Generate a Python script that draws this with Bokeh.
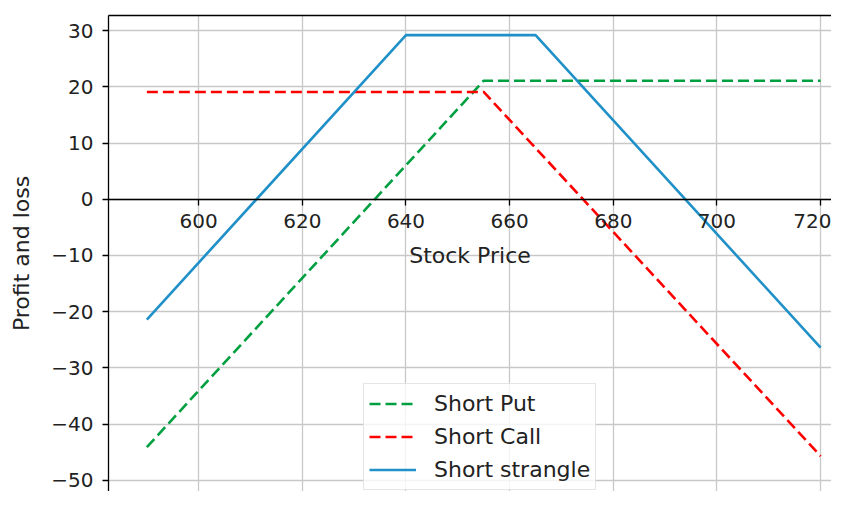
from bokeh.plotting import figure
from bokeh.models import LinearAxis, FixedTicker, Range1d, Legend
from bokeh.embed import file_html
from bokeh.resources import INLINE

# ---- data ----
put_price = [590, 655, 720]
short_put = [-44.1, 21.1, 21.1]

call_price = [590, 655, 720]
short_call = [19.1, 19.1, -45.7]

strangle_price = [590, 640, 665, 720]
short_strangle = [-21.4, 29.2, 29.2, -26.4]

x_ticks = [600, 620, 640, 660, 680, 700, 720]
y_ticks = [-50, -40, -30, -20, -10, 0, 10, 20, 30]

FONT = "DejaVu Sans"
TXT = "#222222"

p = figure(width=831, height=491, output_backend="svg", toolbar_location=None,
           x_range=Range1d(582.6, 722.1), y_range=Range1d(-52.0, 32.7),
           x_axis_location=None, y_axis_location=None,
           min_border_left=108, min_border_right=0, min_border_top=15,
           min_border_bottom=0)
p.outline_line_color = None
p.background_fill_color = "white"

# left axis
yax = LinearAxis(ticker=FixedTicker(ticks=y_ticks))
yax.axis_label = "Profit and loss"
yax.major_label_overrides = {t: (("\u2212" + str(-t)) if t < 0 else str(t)) for t in y_ticks}
p.add_layout(yax, "left")

# x axis crossing at y = 0
xax = LinearAxis(ticker=FixedTicker(ticks=x_ticks), fixed_location=0)
xax.axis_label = "Stock Price"
p.add_layout(xax, "below")

# top spine
top = LinearAxis(ticker=FixedTicker(ticks=[]))
top.major_tick_line_color = None
top.minor_tick_line_color = None
top.major_label_text_font_size = "0px"
top.axis_line_color = "black"
top.axis_line_width = 1.3
p.add_layout(top, "above")

for ax in (xax, yax):
    ax.axis_line_color = "black"
    ax.axis_line_width = 1.3
    ax.major_tick_line_color = "black"
    ax.major_tick_line_width = 1.3
    ax.major_tick_out = 6
    ax.major_tick_in = 0
    ax.minor_tick_line_color = None
    ax.major_label_text_font = FONT
    ax.major_label_text_font_size = "20px"
    ax.major_label_text_color = TXT
    ax.axis_label_text_font = FONT
    ax.axis_label_text_font_size = "22px"
    ax.axis_label_text_font_style = "normal"
    ax.axis_label_text_color = TXT
    ax.major_label_standoff = 9

xax.axis_label_standoff = 11
yax.axis_label_standoff = 14

# grids
p.xgrid.ticker = FixedTicker(ticks=x_ticks)
p.ygrid.ticker = FixedTicker(ticks=y_ticks)
for g in (p.xgrid, p.ygrid):
    g.grid_line_color = "#c8c8c8"
    g.grid_line_width = 1.3

r_put = p.line(put_price, short_put, line_color="#00a040", line_width=2.6, line_dash="11 5")
r_call = p.line(call_price, short_call, line_color="#ff0000", line_width=2.6, line_dash="11 5")
r_str = p.line(strangle_price, short_strangle, line_color="#2090c8", line_width=2.6)

legend = Legend(items=[("Short Put", [r_put]), ("Short Call", [r_call]),
                       ("Short strangle", [r_str])],
                location=(255, 1))
legend.label_text_font = FONT
legend.label_text_font_size = "22px"
legend.label_text_color = TXT
legend.glyph_width = 47
legend.glyph_height = 29
legend.label_height = 29
legend.label_standoff = 18
legend.spacing = 4
legend.padding = 5
legend.margin = 0
legend.border_line_color = "#cccccc"
legend.border_line_width = 1.2
legend.background_fill_color = "white"
legend.background_fill_alpha = 0.8
p.add_layout(legend, "center")

open("out.html", "w").write(file_html(p, INLINE))
